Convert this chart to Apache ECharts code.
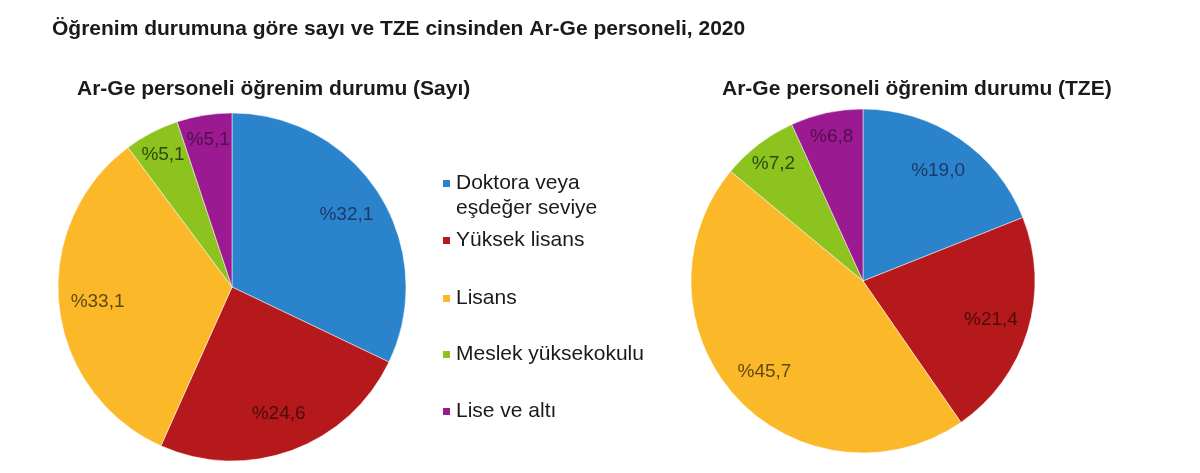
<!DOCTYPE html>
<html>
<head>
<meta charset="utf-8">
<script src="https://cdn.jsdelivr.net/npm/echarts@6/dist/echarts.min.js"></script>
<style>
html,body{margin:0;padding:0;background:#fff;}
#chart{width:1200px;height:473px;}
</style>
</head>
<body>
<div id="chart"></div>
<script>
const categories = ['Doktora veya eşdeğer seviye', 'Yüksek lisans', 'Lisans', 'Meslek yüksekokulu', 'Lise ve altı'];
const sayiValues = [32.1, 24.6, 33.1, 5.1, 5.1];
const tzeValues = [19.0, 21.4, 45.7, 7.2, 6.8];
const mainTitle = 'Öğrenim durumuna göre sayı ve TZE cinsinden Ar-Ge personeli, 2020';
const leftTitle = 'Ar-Ge personeli öğrenim durumu (Sayı)';
const rightTitle = 'Ar-Ge personeli öğrenim durumu (TZE)';
const legendLines = [['Doktora veya', 'eşdeğer seviye'], ['Yüksek lisans'], ['Lisans'], ['Meslek yüksekokulu'], ['Lise ve altı']];

const colors = ['#2a83cb', '#b5191b', '#fbb829', '#8dc31f', '#9c1a91'];
const labelColors = ['#1c3a6c', '#4a0c0c', '#5e4a10', '#2c4a0c', '#50104c'];
const FONT = '"Liberation Sans", Arial, sans-serif';

function pieData(values) {
  return categories.map((c, i) => ({ name: c, value: values[i] }));
}
function fmt(v) { return '%' + v.toFixed(1).replace('.', ','); }

function labelSeries(values, center, r, innerFrac, showFn) {
  return {
    type: 'pie', center: center, radius: [r * innerFrac, r], startAngle: 90, clockwise: true,
    data: pieData(values).map((d, i) => ({
      ...d,
      label: { show: showFn(d.value), color: labelColors[i] }
    })),
    itemStyle: { color: 'rgba(0,0,0,0)' },
    label: {
      position: 'inside', fontFamily: FONT, fontSize: 19,
      formatter: p => fmt(p.value)
    },
    labelLine: { show: false }, emphasis: { disabled: true }, silent: true,
    animation: false, legendHoverLink: false
  };
}

function pieSeries(values, center, r) {
  return [
    {
      type: 'pie', center: center, radius: [0, r], startAngle: 90, clockwise: true,
      data: pieData(values), label: { show: false }, labelLine: { show: false },
      itemStyle: { borderColor: '#ffffff', borderWidth: 0.5 },
      emphasis: { disabled: true }, silent: true, animation: false
    },
    labelSeries(values, center, r, 0.52, v => v >= 10),
    labelSeries(values, center, r, 0.68, v => v < 10)
  ];
}

const legendTops = [166, 223, 281, 337, 394];
const legendTextStyle = { fontFamily: FONT, fontSize: 21, color: '#1a1a1a', lineHeight: 25 };

const chart = echarts.init(document.getElementById('chart'), null, { renderer: 'canvas' });
const titleStyle = { fontFamily: FONT, fontSize: 21, fontWeight: 'bold', color: '#1a1a1a' };
chart.setOption({
  animation: false,
  color: colors,
  title: [
    { text: mainTitle, left: 47, top: 14, textStyle: titleStyle },
    { text: leftTitle, left: 72, top: 74, textStyle: titleStyle },
    { text: rightTitle, left: 717, top: 74, textStyle: titleStyle }
  ],
  legend: categories.map((c, i) => ({
    data: [c], orient: 'vertical', left: 436, top: legendTops[i],
    icon: 'rect', itemWidth: 9, itemHeight: 9, selectedMode: false,
    formatter: () => legendLines[i][0],
    textStyle: legendTextStyle
  })),
  graphic: legendLines.flatMap((lines, i) => lines.slice(1).map((t, k) => ({
    type: 'text', left: 456, top: legendTops[i] + 5 + 25 * (k + 1) + 2,
    style: { text: t, font: '21px ' + FONT, fill: '#1a1a1a' }
  }))),
  series: [
    ...pieSeries(sayiValues, [232, 287], 174),
    ...pieSeries(tzeValues, [863, 281], 172)
  ]
});
</script>
</body>
</html>
